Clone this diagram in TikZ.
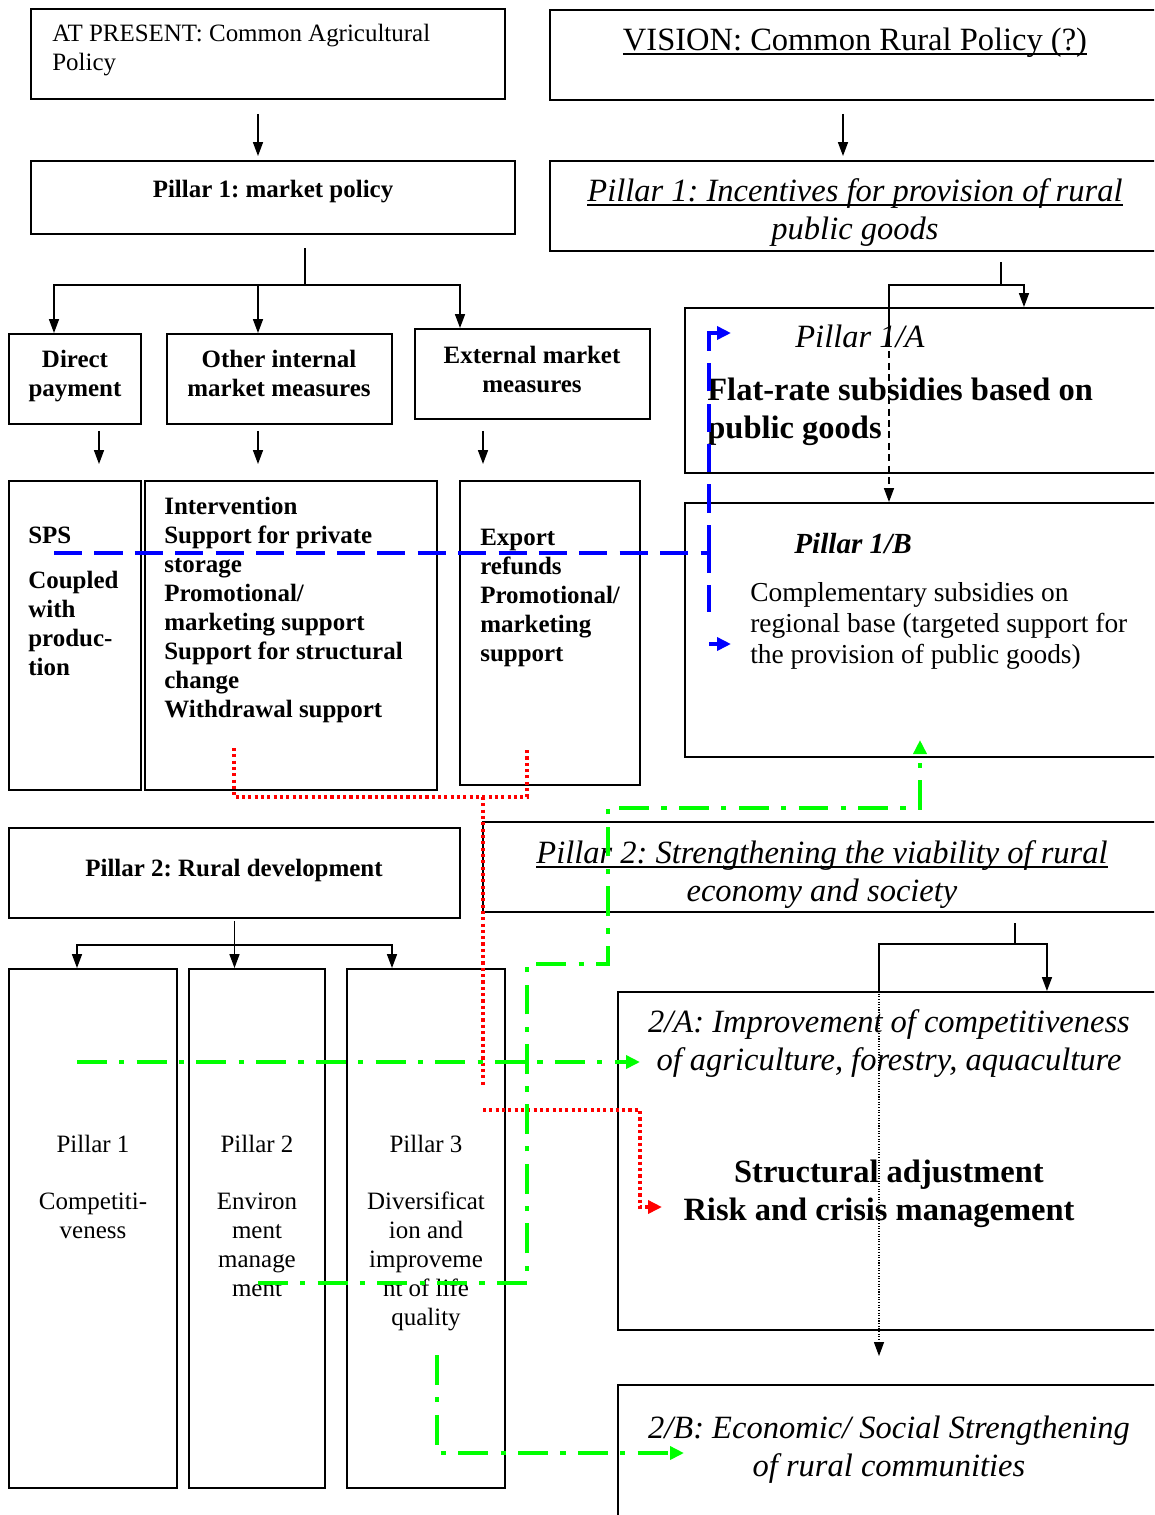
\documentclass[tikz,border=0pt]{standalone}
\usepackage{fontspec}
\setmainfont{Liberation Serif}
\usetikzlibrary{fit,arrows.meta}
\frenchspacing
\newcommand{\fsS}{\fontsize{14.2}{16.5}\selectfont}
\newcommand{\fsM}{\fontsize{15.6}{17.6}\selectfont}
\newcommand{\fsB}{\fontsize{16.6}{19}\selectfont}
\newcommand{\fsL}{\fontsize{18.5}{21.6}\selectfont}
\newcommand{\undl}[1]{\setbox0=\hbox{#1}\rlap{\vrule height -0.08em depth 0.14em width \wd0}\box0}

\begin{document}
\begin{tikzpicture}[x=0.02cm, y=-0.02cm,
  box/.style={draw, line width=1.1pt, inner sep=0pt},
  txt/.style={inner sep=0pt, font=\fsS},
  link/.style={line width=0.9pt},
  arr/.style={line width=0.9pt, -{Triangle[length=0.28cm,width=0.2cm]}},
  tip/.style={-{Triangle[length=0.28cm,width=0.26cm]}},
  bluedash/.style={blue, line width=2pt, dash pattern=on 16pt off 7pt},
  reddot/.style={red, line width=2pt, dash pattern=on 1.8pt off 1.8pt},
  greendash/.style={green, line width=2pt, dash pattern=on 17pt off 7pt on 3pt off 7pt}]
  \useasboundingbox (0,0) rectangle (1154,1515);
  \clip (0,0) rectangle (1154,1515);

  % present
  \node[box, fit={(31,9) (505,99)}] (b1) {};
  \node[box, fit={(31,161) (515,234)}] (b2) {};
  \node[box, fit={(9,334) (141,424)}] (b3) {};
  \node[box, fit={(167,334) (392,424)}] (b4) {};
  \node[box, fit={(415,329) (650,419)}] (b5) {};
  \node[box, fit={(9,481) (141,790)}] (b6) {};
  \node[box, fit={(145,481) (437,790)}] (b7) {};
  \node[box, fit={(460,481) (640,785)}] (b8) {};
  \node[box, fit={(9,828) (460,918)}] (b9) {};
  \node[box, fit={(9,969) (177,1488)}] (b10) {};
  \node[box, fit={(189,969) (325,1488)}] (b11) {};
  \node[box, fit={(347,969) (505,1488)}] (b12) {};

  \node[txt, anchor=north west, align=left] (b1t) at (52,24) {AT PRESENT: Common Agricultural\\Policy};
  \node[txt, anchor=north, font=\fsS\bfseries] (b2t) at (273,180) {Pillar 1: market policy};
  \node[txt, anchor=north, align=center, font=\fsS\bfseries] (b3t) at (75,350) {Direct\\payment};
  \node[txt, anchor=north, align=center, font=\fsS\bfseries] (b4t) at (279,350) {Other internal\\market measures};
  \node[txt, anchor=north, align=center, font=\fsS\bfseries] (b5t) at (532,346) {External market\\measures};
  \node[txt, anchor=north west, align=left, font=\fsS\bfseries] (b6t) at (28,527) {SPS\\[0.32cm]Coupled\\with\\produc-\\tion};
  \node[txt, anchor=north west, align=left, font=\fsS\bfseries] (b7t) at (164,497) {Intervention\\Support for private\\storage\\Promotional/\\marketing support\\Support for structural\\change\\Withdrawal support};
  \node[txt, anchor=north west, align=left, font=\fsS\bfseries] (b8t) at (480,529) {Export\\refunds\\Promotional/\\marketing\\support};
  \node[txt, anchor=north, font=\fsS\bfseries] (b9t) at (234,859) {Pillar 2: Rural development};
  \node[txt, anchor=north, align=center] (b10t) at (93,1135) {Pillar 1\\[0.55cm]Competiti-\\veness};
  \node[txt, anchor=north, align=center] (b11t) at (257,1135) {Pillar 2\\[0.55cm]Environ\\ment\\manage\\ment};
  \node[txt, anchor=north, align=center] (b12t) at (426,1135) {Pillar 3\\[0.55cm]Diversificat\\ion and\\improveme\\nt of life\\quality};

  % vision
  \node[box, fit={(550,10) (1160,100)}] (r1) {};
  \node[box, fit={(550,161) (1160,251)}] (r2) {};
  \node[box, fit={(685,308) (1160,473)}] (r3) {};
  \node[box, fit={(685,503) (1160,757)}] (r4) {};
  \node[box, fit={(483,822) (1160,912)}] (r5) {};
  \node[box, fit={(618,992) (1160,1330)}] (r6) {};
  \node[box, fit={(618,1385) (1160,1525)}] (r7) {};

  \node[txt, anchor=base, font=\fsL] (r1t) at (855,50) {\undl{VISION: Common Rural Policy (?)}};
  \node[txt, anchor=north, align=center, font=\fsL\itshape] (r2t) at (855,178) {\undl{Pillar 1: Incentives for provision of rural}\\public goods};
  \node[txt, anchor=base west, font=\fsL\itshape] (r3a) at (795,347) {Pillar 1/A};
  \node[txt, anchor=north west, align=left, font=\fsL\bfseries] (r3t) at (707,378) {Flat-rate subsidies based on\\public goods};
  \node[txt, anchor=base west, font=\fsB\bfseries\itshape] (r4a) at (794,553) {Pillar 1/B};
  \node[txt, anchor=north west, align=left, font=\fsM] (r4t) at (750,582) {Complementary subsidies on\\regional base (targeted support for\\the provision of public goods)};
  \node[txt, anchor=north, align=center, font=\fsL\itshape] (r5t) at (822,840) {\undl{Pillar 2: Strengthening the viability of rural}\\economy and society};
  \node[txt, anchor=north, align=center, font=\fsL\itshape] (r6a) at (889,1009) {2/A: Improvement of competitiveness\\of agriculture, forestry, aquaculture};
  \node[txt, anchor=north, align=center, font=\fsL\bfseries] (r6t) at (884,1160) {\hspace*{0.2cm}Structural adjustment\\Risk and crisis management\hspace*{0.2cm}};
  \node[txt, anchor=north, align=center, font=\fsL\itshape] (r7t) at (889,1416) {2/B: Economic/ Social Strengthening\\of rural communities};

  % black arrows
  \coordinate (a1) at ([xshift=-0.2cm]b1.south);
  \coordinate (a2) at ([xshift=-0.24cm]r1.south);
  \coordinate (a3) at ([xshift=0.48cm]b3.south);
  \coordinate (a4) at ([xshift=-0.43cm]b4.south);
  \coordinate (a5) at ([xshift=-0.99cm]b5.south);
  \draw[arr, shorten <=0.28cm, shorten >=0.08cm] (a1) -- (a1 |- b2.north);
  \draw[arr, shorten <=0.26cm, shorten >=0.08cm] (a2) -- (a2 |- r2.north);
  \draw[arr, shorten <=0.12cm, shorten >=0.32cm] (a3) -- (a3 |- b6.north);
  \draw[arr, shorten <=0.12cm, shorten >=0.32cm] (a4) -- (a4 |- b7.north);
  \draw[arr, shorten <=0.22cm, shorten >=0.32cm] (a5) -- (a5 |- b8.north);

  \coordinate (p1fork) at (305,285);
  \draw[link] (p1fork) -- ++(0,-37);
  \draw[arr] (p1fork) -| ([xshift=-0.42cm]b3.north);
  \draw[arr] (p1fork) -| ([xshift=-0.43cm]b4.north);
  \draw[arr] (p1fork) -| ([xshift=-1.45cm]b5.north);

  \coordinate (p2fork) at (234,945);
  \draw[arr, shorten <=0.04cm] (b9.south) -- (b9.south |- b11.north);
  \draw[arr] (p2fork) -| ([xshift=-0.32cm]b10.north);
  \draw[arr] (p2fork) -| ([xshift=-0.68cm]b12.north);

  \coordinate (v1fork) at (1001,285);
  \coordinate (v1left) at (889,285);
  \coordinate (v1mid) at (889,340);
  \draw[link] (v1fork) -- ++(0,-23);
  \draw[arr] (v1fork) -| ([xshift=2.03cm]r3.north);
  \draw[link] (v1fork) -- (v1left) -- (v1mid);
  \draw[arr, dash pattern=on 4pt off 2.5pt] (v1mid) -- (v1mid |- r4.north);

  \coordinate (v2fork) at (1015,944);
  \coordinate (v2left) at (879,944);
  \draw[link] (v2fork) -- ++(0,-21);
  \draw[arr] (v2fork) -| ([xshift=3.16cm]r6.north);
  \draw[link] (v2fork) -- (v2left) -- (v2left |- r6.north);
  \draw[arr, line width=0.7pt, dash pattern=on 0.6pt off 0.9pt, shorten >=0.56cm] (v2left |- r6.north) -- (v2left |- r7.north);

  % coloured links
  \coordinate (bl1) at (54,553);
  \coordinate (bl2) at (709,553);
  \coordinate (bl3) at (709,333);
  \coordinate (bl4) at (709,644);
  \draw[bluedash] (bl1) -- (bl2) -- ++(0,59);
  \draw[bluedash, tip] (bl2) -- (bl3) -- ++(22,0);
  \draw[bluedash, tip] (bl4) -- ++(22,0);

  \coordinate (rd1) at (234,748);
  \coordinate (rd2) at (527,748);
  \coordinate (rd3) at (483,797);
  \coordinate (rd4) at (483,1110);
  \draw[reddot] (rd1) -- ++(0,49) -| (rd2);
  \draw[reddot] (rd3) -- ++(0,288);
  \draw[reddot, tip] (rd4) -| ++(157,97) -- ++(22,0);

  \coordinate (gr1) at (258,1283);
  \coordinate (gr2) at (77,1062);
  \coordinate (gr3) at (437,1355);
  \draw[greendash, tip] (gr1) -- ++(269,0) -- ++(0,-319) -- ++(81,0) -- ++(0,-156) -- ++(312,0) -- ++(0,-68);
  \draw[greendash, tip] (gr2) -- ++(563,0);
  \draw[greendash, tip] (gr3) |- ++(247,98);
\end{tikzpicture}
\end{document}
